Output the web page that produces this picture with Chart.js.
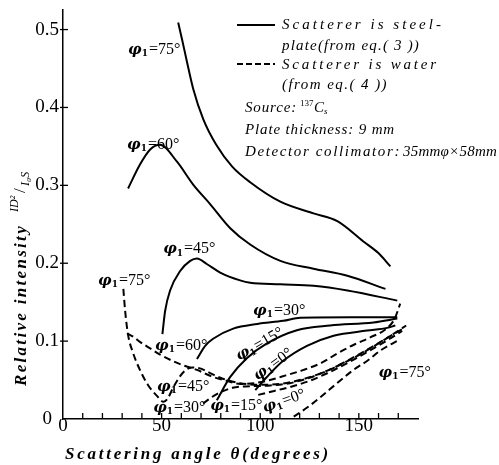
<!DOCTYPE html>
<html>
<head>
<meta charset="utf-8">
<script src="https://cdn.jsdelivr.net/npm/chart.js@4.4.0/dist/chart.umd.min.js"></script>
<style>
  html, body { margin: 0; padding: 0; background: #fff; }
</style>
</head>
<body>
<canvas id="chart" width="499" height="465"></canvas>
<script>
// [scattering angle (deg), relative intensity ID²/I0S]
// steel plate (solid, eq.3)
const steel75 = [[58.4,0.509],[60.4,0.487],[62.9,0.458],[66,0.424],[71.1,0.385],[77.7,0.352],[85.8,0.324],[94.9,0.304],[110.2,0.279],[127,0.264],[139.1,0.254],[152.3,0.228],[159.9,0.213],[166,0.196]];
const steel60 = [[33,0.296],[39.1,0.327],[44.2,0.346],[49.2,0.352],[57.9,0.33],[66,0.301],[74.6,0.276],[84.8,0.245],[94.9,0.224],[110.2,0.203],[127,0.193],[144.2,0.184],[163.5,0.167]];
const steel45 = [[50.4,0.109],[51.8,0.139],[54.3,0.165],[59.4,0.19],[64.5,0.203],[67.9,0.206],[72.9,0.199],[79.7,0.188],[89.8,0.178],[94.9,0.175],[110.2,0.173],[127,0.171],[144.2,0.165],[169.5,0.152]];
const steel30 = [[67.9,0.077],[72.1,0.094],[76.1,0.103],[86.3,0.116],[98.5,0.122],[111.7,0.126],[120.3,0.13],[145.7,0.1305],[169.5,0.1305]];
const steel15 = [[78,0.024],[84.8,0.054],[93.2,0.078],[103.4,0.097],[118.6,0.114],[135.5,0.12],[157.4,0.124],[169.5,0.129]];
const steel0 = [[97.5,0.037],[103.4,0.054],[111.8,0.075],[123.7,0.094],[137.2,0.107],[154.2,0.1135],[164.3,0.117],[168.5,0.12]];

// water (dashed, eq.4)
const water75 = [[30.6,0.167],[31.5,0.139],[33,0.108],[35.5,0.085],[39,0.063],[43,0.044],[47.5,0.03],[51,0.022],[53,0.026],[55.8,0.04],[59.4,0.055],[62.9,0.064],[66,0.066],[69.5,0.065],[74.6,0.059],[80.7,0.052],[89.8,0.046],[100,0.044],[110,0.045],[120,0.05],[130,0.058],[140,0.069],[150,0.082],[160,0.097],[168,0.11],[174,0.12]];
const water60 = [[32.5,0.11],[36,0.105],[39,0.099],[44,0.091],[49,0.083],[56,0.074],[62,0.068],[68,0.063],[75,0.055],[83,0.049],[90,0.045],[97,0.046],[105,0.05],[113,0.056],[122,0.063],[131,0.072],[139,0.084],[148,0.096],[156,0.105],[164,0.116],[168,0.128],[171,0.148]];
const water30 = [[71,0.02],[78,0.032],[86,0.04],[95,0.042],[105,0.043],[115,0.046],[125,0.053],[135,0.063],[145,0.076],[155,0.09],[165,0.105],[173,0.117]];
const water15 = [[99,0.031],[107,0.036],[115,0.041],[125,0.049],[135,0.06],[145,0.073],[155,0.087],[165,0.102],[172,0.113]];
const water75b = [[117,0.003],[124,0.015],[130.5,0.028],[139,0.046],[147,0.0625],[155,0.076],[161,0.088],[170,0.101]];

const xTicks = [0, 50, 100, 150];
const yTicks = [0, 0.1, 0.2, 0.3, 0.4, 0.5];

// [angle φ1 text, theta, value, rotation deg]
const curveLabels = [
  ['75°', 33, 0.474, 0],
  ['60°', 32.5, 0.352, 0],
  ['45°', 50.8, 0.218, 0],
  ['75°', 17.8, 0.177, 0],
  ['60°', 46.7, 0.094, 0],
  ['45°', 47.7, 0.041, 0],
  ['30°', 45.7, 0.014, 0],
  ['15°', 74.6, 0.017, 0],
  ['0°', 101.5, 0.013, -20],
  ['30°', 96.4, 0.139, 0],
  ['15°', 88.3, 0.079, -30],
  ['0°', 97.5, 0.053, -36],
  ['75°', 160, 0.059, 0]
];

const solid = (data) => ({ data, borderColor: '#000', borderWidth: 2, pointRadius: 0, fill: false, cubicInterpolationMode: 'monotone' });
const dashed = (data) => ({ ...solid(data), borderDash: [7, 4] });

function drawPhi(ctx, text, x, y, rot) {
  ctx.save();
  ctx.translate(x, y);
  ctx.rotate(rot * Math.PI / 180);
  ctx.textBaseline = 'middle';
  ctx.textAlign = 'left';
  ctx.font = 'bold italic 15px "DejaVu Serif"';
  ctx.fillText('φ', 0, 0);
  let w = ctx.measureText('φ').width;
  ctx.font = 'bold 9px "DejaVu Serif"';
  ctx.fillText('1', w, 4);
  w += ctx.measureText('1').width + 1;
  ctx.font = '16px "Liberation Serif"';
  ctx.fillText('=' + text, w, 0);
  ctx.restore();
}

// stretch a line of text to a given width with letter spacing
function fitText(ctx, text, x, y, width) {
  ctx.letterSpacing = '0px';
  const natural = ctx.measureText(text).width;
  const sp = Math.max(0, (width - natural) / text.length);
  ctx.letterSpacing = sp + 'px';
  ctx.fillText(text, x, y);
  ctx.letterSpacing = '0px';
}

const annotate = {
  id: 'annotate',
  afterDraw(chart) {
    const ctx = chart.ctx;
    const xs = chart.scales.x, ys = chart.scales.y;
    ctx.save();
    ctx.strokeStyle = '#000';
    ctx.fillStyle = '#000';
    ctx.lineWidth = 1.3;
    // inward tick marks
    for (let t = 10; t <= 170; t += 10) {
      const px = xs.getPixelForValue(t);
      ctx.beginPath(); ctx.moveTo(px, ys.bottom); ctx.lineTo(px, ys.bottom - 6); ctx.stroke();
    }
    yTicks.forEach(v => {
      if (v === 0) return;
      const py = ys.getPixelForValue(v);
      ctx.beginPath(); ctx.moveTo(xs.left - 3, py); ctx.lineTo(xs.left + 5, py); ctx.stroke();
    });

    // curve labels
    curveLabels.forEach(([t, th, v, rot]) => {
      drawPhi(ctx, t, xs.getPixelForValue(th), ys.getPixelForValue(v), rot);
    });

    // legend
    ctx.lineWidth = 2;
    ctx.beginPath(); ctx.moveTo(237, 25); ctx.lineTo(275, 25); ctx.stroke();
    ctx.setLineDash([6, 3]);
    ctx.beginPath(); ctx.moveTo(237, 64); ctx.lineTo(275, 64); ctx.stroke();
    ctx.setLineDash([]);
    ctx.textAlign = 'left';
    ctx.textBaseline = 'middle';
    ctx.font = 'italic 15px "Liberation Serif"';
    fitText(ctx, 'Scatterer is steel-', 282, 25, 162);
    fitText(ctx, 'plate(from eq.( 3 ))', 282, 46, 138);
    fitText(ctx, 'Scatterer is water', 282, 65, 157);
    fitText(ctx, '(from eq.( 4 ))', 282, 85, 106);
    fitText(ctx, 'Source:', 245, 108, 52);
    ctx.font = '9px "Liberation Serif"';
    ctx.fillText('137', 300, 104);
    ctx.font = 'italic 15px "Liberation Serif"';
    ctx.fillText('C', 314, 108);
    ctx.font = 'italic 9px "Liberation Serif"';
    ctx.fillText('s', 324, 112);
    ctx.font = 'italic 15px "Liberation Serif"';
    fitText(ctx, 'Plate thickness: 9 mm', 245, 130, 150);
    fitText(ctx, 'Detector collimator:', 245, 152, 156);
    fitText(ctx, '35mmφ×58mm', 403, 152, 94);

    // x axis title
    ctx.font = 'bold italic 17px "Liberation Serif"';
    ctx.textBaseline = 'alphabetic';
    fitText(ctx, 'Scattering angle θ(degrees)', 65, 459, 266);

    // y axis title
    ctx.save();
    ctx.translate(26, 386);
    ctx.rotate(-Math.PI / 2);
    fitText(ctx, 'Relative intensity', 0, 0, 162);
    ctx.font = 'italic 12px "Liberation Serif"';
    ctx.fillText('ID²', 174, -8);
    ctx.font = '17px "Liberation Serif"';
    ctx.fillText('/', 193, -1);
    ctx.font = 'italic 12px "Liberation Serif"';
    ctx.fillText('I₀S', 200, 3);
    ctx.restore();
    ctx.restore();
  }
};

new Chart(document.getElementById('chart'), {
  type: 'line',
  data: {
    datasets: [
      solid(steel75), solid(steel60), solid(steel45), solid(steel30), solid(steel15), solid(steel0),
      dashed(water75), dashed(water60), dashed(water30), dashed(water15), dashed(water75b)
    ]
  },
  options: {
    responsive: false,
    animation: false,
    layout: { padding: { left: 0, top: 7, right: 81, bottom: 0 } },
    plugins: { legend: { display: false }, tooltip: { enabled: false } },
    scales: {
      x: {
        type: 'linear', min: 0, max: 180,
        afterFit: s => { s.height = 46; },
        afterBuildTicks: s => { s.ticks = xTicks.map(v => ({ value: v })); },
        grid: { display: false, drawTicks: false },
        border: { display: true, color: '#000', width: 1.5 },
        ticks: { color: '#000', padding: 1, font: { family: 'Liberation Serif', size: 19, lineHeight: 0.6 } }
      },
      y: {
        type: 'linear', min: 0, max: 0.5255,
        afterFit: s => { s.width = 63; },
        afterBuildTicks: s => { s.ticks = yTicks.map(v => ({ value: v })); },
        grid: { display: false, drawTicks: false },
        border: { display: true, color: '#000', width: 1.5 },
        ticks: { color: '#000', padding: 4, crossAlign: 'center', font: { family: 'Liberation Serif', size: 19, lineHeight: 0.6 },
                 callback: v => v === 0 ? '0' : v.toFixed(1) }
      }
    }
  },
  plugins: [annotate]
});
</script>
</body>
</html>
